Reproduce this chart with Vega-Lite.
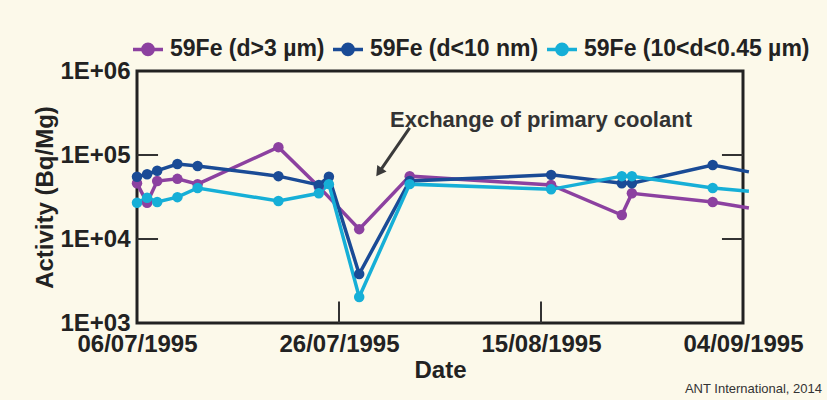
{
  "$schema": "https://vega.github.io/schema/vega-lite/v6.json",
  "width": 606,
  "height": 252,
  "autosize": {"type": "none"},
  "padding": {"left": 137, "top": 71, "right": 84, "bottom": 77},
  "background": "#fcf9ea",
  "title": {"text": "ANT International, 2014", "orient": "bottom", "anchor": "end", "frame": "group", "fontSize": 13, "fontWeight": "normal", "color": "#333333", "font": "Liberation Sans", "dx": 79, "offset": 1},
  "config": {
    "view": {"stroke": "#222222", "strokeWidth": 3},
    "font": "Liberation Sans",
    "axis": {"grid": false, "domain": false, "ticks": false, "labelFont": "Liberation Sans", "labelFontSize": 24, "labelFontWeight": "bold", "labelColor": "#222222", "titleFont": "Liberation Sans", "titleFontSize": 24, "titleFontWeight": "bold", "titleColor": "#222222", "labelFlush": false, "labelOverlap": false}
  },
  "data": {"values": [
    {"date": "1995-07-06T00:00", "series": "59Fe (d>3 µm)", "activity": 46000},
    {"date": "1995-07-07T00:00", "series": "59Fe (d>3 µm)", "activity": 27000},
    {"date": "1995-07-08T00:00", "series": "59Fe (d>3 µm)", "activity": 49000},
    {"date": "1995-07-10T00:00", "series": "59Fe (d>3 µm)", "activity": 52000},
    {"date": "1995-07-12T00:00", "series": "59Fe (d>3 µm)", "activity": 45000},
    {"date": "1995-07-20T00:00", "series": "59Fe (d>3 µm)", "activity": 124000},
    {"date": "1995-07-24T00:00", "series": "59Fe (d>3 µm)", "activity": 42000},
    {"date": "1995-07-28T00:00", "series": "59Fe (d>3 µm)", "activity": 13100},
    {"date": "1995-08-02T00:00", "series": "59Fe (d>3 µm)", "activity": 56000},
    {"date": "1995-08-16T00:00", "series": "59Fe (d>3 µm)", "activity": 44000},
    {"date": "1995-08-23T00:00", "series": "59Fe (d>3 µm)", "activity": 19300},
    {"date": "1995-08-24T00:00", "series": "59Fe (d>3 µm)", "activity": 35000},
    {"date": "1995-09-01T00:00", "series": "59Fe (d>3 µm)", "activity": 27600},
    {"date": "1995-09-04T14:00", "series": "59Fe (d>3 µm)", "activity": 23400},
    {"date": "1995-07-06T00:00", "series": "59Fe (d<10 nm)", "activity": 55000},
    {"date": "1995-07-07T00:00", "series": "59Fe (d<10 nm)", "activity": 59000},
    {"date": "1995-07-08T00:00", "series": "59Fe (d<10 nm)", "activity": 65000},
    {"date": "1995-07-10T00:00", "series": "59Fe (d<10 nm)", "activity": 78000},
    {"date": "1995-07-12T00:00", "series": "59Fe (d<10 nm)", "activity": 74000},
    {"date": "1995-07-20T00:00", "series": "59Fe (d<10 nm)", "activity": 56000},
    {"date": "1995-07-24T00:00", "series": "59Fe (d<10 nm)", "activity": 44000},
    {"date": "1995-07-25T00:00", "series": "59Fe (d<10 nm)", "activity": 55000},
    {"date": "1995-07-28T00:00", "series": "59Fe (d<10 nm)", "activity": 3830},
    {"date": "1995-08-02T00:00", "series": "59Fe (d<10 nm)", "activity": 49000},
    {"date": "1995-08-16T00:00", "series": "59Fe (d<10 nm)", "activity": 58000},
    {"date": "1995-08-23T00:00", "series": "59Fe (d<10 nm)", "activity": 46000},
    {"date": "1995-08-24T00:00", "series": "59Fe (d<10 nm)", "activity": 46000},
    {"date": "1995-09-01T00:00", "series": "59Fe (d<10 nm)", "activity": 76000},
    {"date": "1995-09-04T14:00", "series": "59Fe (d<10 nm)", "activity": 63000},
    {"date": "1995-07-06T00:00", "series": "59Fe (10<d<0.45 µm)", "activity": 27000},
    {"date": "1995-07-07T00:00", "series": "59Fe (10<d<0.45 µm)", "activity": 31000},
    {"date": "1995-07-08T00:00", "series": "59Fe (10<d<0.45 µm)", "activity": 27600},
    {"date": "1995-07-10T00:00", "series": "59Fe (10<d<0.45 µm)", "activity": 31500},
    {"date": "1995-07-12T00:00", "series": "59Fe (10<d<0.45 µm)", "activity": 40500},
    {"date": "1995-07-20T00:00", "series": "59Fe (10<d<0.45 µm)", "activity": 28300},
    {"date": "1995-07-24T00:00", "series": "59Fe (10<d<0.45 µm)", "activity": 35000},
    {"date": "1995-07-25T00:00", "series": "59Fe (10<d<0.45 µm)", "activity": 45000},
    {"date": "1995-07-28T00:00", "series": "59Fe (10<d<0.45 µm)", "activity": 2040},
    {"date": "1995-08-02T00:00", "series": "59Fe (10<d<0.45 µm)", "activity": 45000},
    {"date": "1995-08-16T00:00", "series": "59Fe (10<d<0.45 µm)", "activity": 39000},
    {"date": "1995-08-23T00:00", "series": "59Fe (10<d<0.45 µm)", "activity": 56000},
    {"date": "1995-08-24T00:00", "series": "59Fe (10<d<0.45 µm)", "activity": 56000},
    {"date": "1995-09-01T00:00", "series": "59Fe (10<d<0.45 µm)", "activity": 40500},
    {"date": "1995-09-04T14:00", "series": "59Fe (10<d<0.45 µm)", "activity": 37000}
  ]},
  "layer": [
    {
      "data": {"values": [
        {"tick": "L4", "t": "1995-07-06T00:00", "v": 10000},
        {"tick": "L4", "t": "1995-07-08T02:00", "v": 10000},
        {"tick": "L5", "t": "1995-07-06T00:00", "v": 100000},
        {"tick": "L5", "t": "1995-07-08T02:00", "v": 100000},
        {"tick": "R4", "t": "1995-09-01T22:00", "v": 10000},
        {"tick": "R4", "t": "1995-09-04T00:00", "v": 10000},
        {"tick": "R5", "t": "1995-09-01T22:00", "v": 100000},
        {"tick": "R5", "t": "1995-09-04T00:00", "v": 100000},
        {"tick": "B1", "t": "1995-07-26T00:00", "v": 1000},
        {"tick": "B1", "t": "1995-07-26T00:00", "v": 1800},
        {"tick": "B2", "t": "1995-08-15T00:00", "v": 1000},
        {"tick": "B2", "t": "1995-08-15T00:00", "v": 1800}
      ]},
      "mark": {"type": "line", "strokeWidth": 2, "color": "#333333"},
      "encoding": {
        "x": {"field": "t", "type": "temporal", "scale": {"domain": [{"year": 1995, "month": 7, "date": 6}, {"year": 1995, "month": 9, "date": 4}]},
              "axis": {"title": "Date", "format": "%d/%m/%Y", "values": [{"year": 1995, "month": 7, "date": 6}, {"year": 1995, "month": 7, "date": 26}, {"year": 1995, "month": 8, "date": 15}, {"year": 1995, "month": 9, "date": 4}], "labelPadding": 9, "titlePadding": 2}},
        "y": {"field": "v", "type": "quantitative", "scale": {"type": "log", "domain": [1000, 1000000], "nice": false},
              "axis": {"title": "Activity (Bq/Mg)", "orient": "left", "values": [1000, 10000, 100000, 1000000], "labelExpr": "'1E+0' + round(log(datum.value) / LN10)", "labelPadding": 7, "titlePadding": 2}},
        "detail": {"field": "tick", "type": "nominal"}
      }
    },
    {
      "mark": {"type": "line", "strokeWidth": 3.5},
      "encoding": {
        "x": {"field": "date", "type": "temporal", "scale": {"domain": [{"year": 1995, "month": 7, "date": 6}, {"year": 1995, "month": 9, "date": 4}]},
              "axis": {"title": "Date", "format": "%d/%m/%Y", "values": [{"year": 1995, "month": 7, "date": 6}, {"year": 1995, "month": 7, "date": 26}, {"year": 1995, "month": 8, "date": 15}, {"year": 1995, "month": 9, "date": 4}], "labelPadding": 9, "titlePadding": 2}},
        "y": {"field": "activity", "type": "quantitative", "scale": {"type": "log", "domain": [1000, 1000000], "nice": false},
              "axis": {"title": "Activity (Bq/Mg)", "orient": "left", "values": [1000, 10000, 100000, 1000000], "labelExpr": "'1E+0' + round(log(datum.value) / LN10)", "labelPadding": 7, "titlePadding": 2}},
        "stroke": {"field": "series", "type": "nominal",
                   "scale": {"domain": ["59Fe (d>3 µm)", "59Fe (d<10 nm)", "59Fe (10<d<0.45 µm)"], "range": ["#8c41a0", "#1a4b96", "#16afd7"]},
                   "legend": {"orient": "none", "legendX": -6, "legendY": -39, "direction": "horizontal", "title": null, "symbolType": "M-1,0H1M0.34,0A0.34,0.34,0,1,1,-0.34,0A0.34,0.34,0,1,1,0.34,0", "symbolSize": 900, "symbolStrokeWidth": 3.5, "labelFont": "Liberation Sans", "labelFontSize": 23, "labelFontWeight": "bold", "labelColor": "#222222", "labelOffset": 5, "columnPadding": 1, "padding": 0, "labelLimit": 400}}
      }
    },
    {
      "transform": [{"filter": "time(datum.date) < time(datetime(1995, 8, 3))"}],
      "mark": {"type": "point", "filled": true, "size": 110, "opacity": 1},
      "encoding": {
        "x": {"field": "date", "type": "temporal", "scale": {"domain": [{"year": 1995, "month": 7, "date": 6}, {"year": 1995, "month": 9, "date": 4}]},
              "axis": {"title": "Date", "format": "%d/%m/%Y", "values": [{"year": 1995, "month": 7, "date": 6}, {"year": 1995, "month": 7, "date": 26}, {"year": 1995, "month": 8, "date": 15}, {"year": 1995, "month": 9, "date": 4}], "labelPadding": 9, "titlePadding": 2}},
        "y": {"field": "activity", "type": "quantitative", "scale": {"type": "log", "domain": [1000, 1000000], "nice": false},
              "axis": {"title": "Activity (Bq/Mg)", "orient": "left", "values": [1000, 10000, 100000, 1000000], "labelExpr": "'1E+0' + round(log(datum.value) / LN10)", "labelPadding": 7, "titlePadding": 2}},
        "fill": {"field": "series", "type": "nominal",
                 "scale": {"domain": ["59Fe (d>3 µm)", "59Fe (d<10 nm)", "59Fe (10<d<0.45 µm)"], "range": ["#8c41a0", "#1a4b96", "#16afd7"]},
                 "legend": {"orient": "none", "legendX": -6, "legendY": -39, "direction": "horizontal", "title": null, "symbolType": "M-1,0H1M0.34,0A0.34,0.34,0,1,1,-0.34,0A0.34,0.34,0,1,1,0.34,0", "symbolSize": 900, "symbolStrokeWidth": 3.5, "labelFont": "Liberation Sans", "labelFontSize": 23, "labelFontWeight": "bold", "labelColor": "#222222", "labelOffset": 5, "columnPadding": 1, "padding": 0, "labelLimit": 400}}
      }
    },
    {
      "data": {"values": [{"x": "1995-08-02T00:00", "y": 210000, "x2": "1995-07-30T01:30", "y2": 64600}]},
      "mark": {"type": "rule", "strokeWidth": 3, "color": "#3a3a3a"},
      "encoding": {
        "x": {"field": "x", "type": "temporal", "scale": {"domain": [{"year": 1995, "month": 7, "date": 6}, {"year": 1995, "month": 9, "date": 4}]},
              "axis": {"title": "Date", "format": "%d/%m/%Y", "values": [{"year": 1995, "month": 7, "date": 6}, {"year": 1995, "month": 7, "date": 26}, {"year": 1995, "month": 8, "date": 15}, {"year": 1995, "month": 9, "date": 4}], "labelPadding": 9, "titlePadding": 2}},
        "y": {"field": "y", "type": "quantitative", "scale": {"type": "log", "domain": [1000, 1000000], "nice": false},
              "axis": {"title": "Activity (Bq/Mg)", "orient": "left", "values": [1000, 10000, 100000, 1000000], "labelExpr": "'1E+0' + round(log(datum.value) / LN10)", "labelPadding": 7, "titlePadding": 2}},
        "x2": {"field": "x2"},
        "y2": {"field": "y2"}
      }
    },
    {
      "data": {"values": [{"x": "1995-07-30T01:30", "y": 64600}]},
      "mark": {"type": "point", "shape": "triangle", "angle": 215, "size": 130, "filled": true, "color": "#3a3a3a", "opacity": 1},
      "encoding": {
        "x": {"field": "x", "type": "temporal", "scale": {"domain": [{"year": 1995, "month": 7, "date": 6}, {"year": 1995, "month": 9, "date": 4}]},
              "axis": {"title": "Date", "format": "%d/%m/%Y", "values": [{"year": 1995, "month": 7, "date": 6}, {"year": 1995, "month": 7, "date": 26}, {"year": 1995, "month": 8, "date": 15}, {"year": 1995, "month": 9, "date": 4}], "labelPadding": 9, "titlePadding": 2}},
        "y": {"field": "y", "type": "quantitative", "scale": {"type": "log", "domain": [1000, 1000000], "nice": false},
              "axis": {"title": "Activity (Bq/Mg)", "orient": "left", "values": [1000, 10000, 100000, 1000000], "labelExpr": "'1E+0' + round(log(datum.value) / LN10)", "labelPadding": 7, "titlePadding": 2}}
      }
    },
    {
      "data": {"values": [{"x": "1995-08-15T00:00", "y": 215000, "label": "Exchange of primary coolant"}]},
      "mark": {"type": "text", "fontSize": 22, "fontWeight": "bold", "color": "#333333", "baseline": "alphabetic", "align": "center", "font": "Liberation Sans"},
      "encoding": {
        "x": {"field": "x", "type": "temporal", "scale": {"domain": [{"year": 1995, "month": 7, "date": 6}, {"year": 1995, "month": 9, "date": 4}]},
              "axis": {"title": "Date", "format": "%d/%m/%Y", "values": [{"year": 1995, "month": 7, "date": 6}, {"year": 1995, "month": 7, "date": 26}, {"year": 1995, "month": 8, "date": 15}, {"year": 1995, "month": 9, "date": 4}], "labelPadding": 9, "titlePadding": 2}},
        "y": {"field": "y", "type": "quantitative", "scale": {"type": "log", "domain": [1000, 1000000], "nice": false},
              "axis": {"title": "Activity (Bq/Mg)", "orient": "left", "values": [1000, 10000, 100000, 1000000], "labelExpr": "'1E+0' + round(log(datum.value) / LN10)", "labelPadding": 7, "titlePadding": 2}},
        "text": {"field": "label"}
      }
    }
  ]
}
